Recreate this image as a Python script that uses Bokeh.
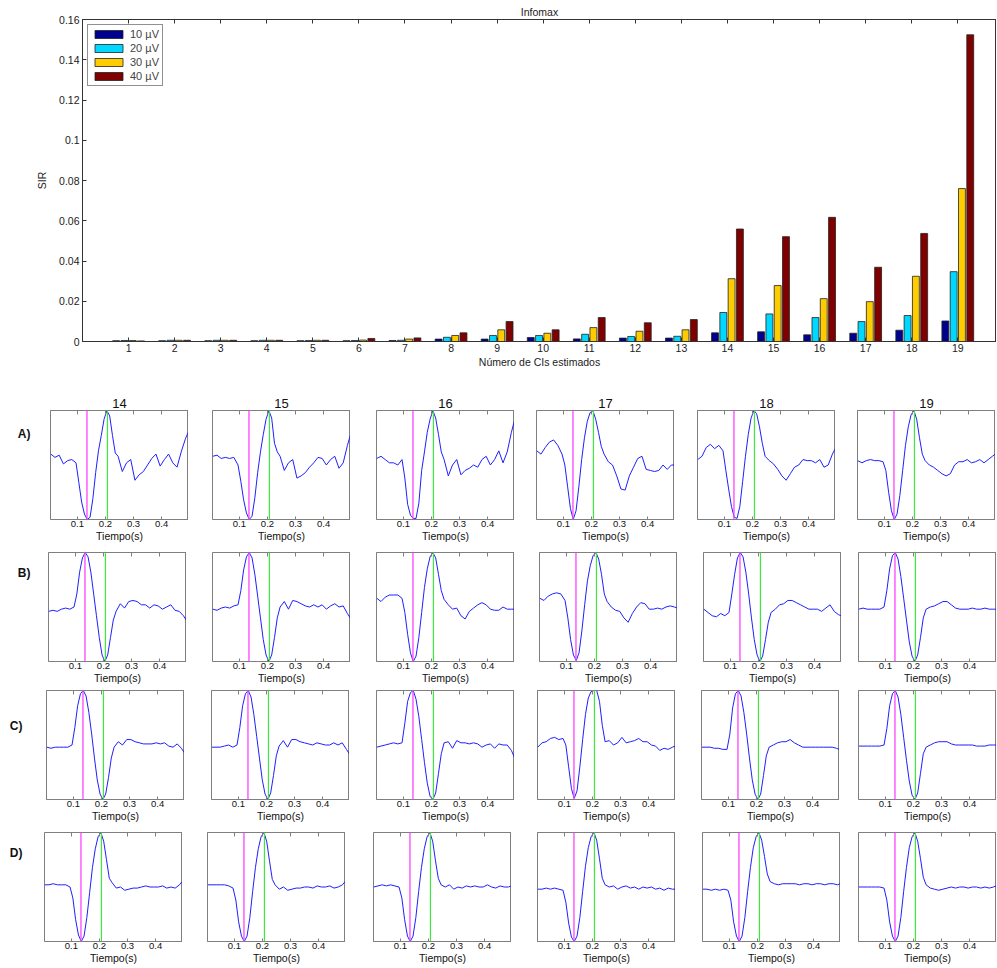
from bokeh.plotting import figure
from bokeh.models import Range1d, FixedTicker, LinearAxis, Legend, LegendItem, Span
from bokeh.core.properties import value
from bokeh.layouts import column, row
from bokeh.embed import file_html
from bokeh.resources import INLINE

FONT = "Liberation Sans"

# ---------------- bar chart data ----------------
CATS = list(range(1, 20))
SERIES = ["10 µV", "20 µV", "30 µV", "40 µV"]
V10 = [0.0004, 0.0004, 0.0004, 0.0004, 0.0004, 0.0004, 0.0005, 0.0012, 0.0012, 0.0020,
       0.0013, 0.0017, 0.0017, 0.0043, 0.0048, 0.0033, 0.0041, 0.0056, 0.0102]
V20 = [0.0005, 0.0006, 0.0006, 0.0006, 0.0005, 0.0005, 0.0006, 0.0021, 0.0030, 0.0030,
       0.0036, 0.0025, 0.0026, 0.0144, 0.0137, 0.0119, 0.0099, 0.0129, 0.0347]
V30 = [0.0005, 0.0006, 0.0006, 0.0006, 0.0006, 0.0007, 0.0012, 0.0030, 0.0058, 0.0041,
       0.0069, 0.0051, 0.0058, 0.0312, 0.0278, 0.0213, 0.0198, 0.0324, 0.0760]
V40 = [0.0003, 0.0006, 0.0006, 0.0006, 0.0006, 0.0015, 0.0018, 0.0043, 0.0099, 0.0058,
       0.0119, 0.0093, 0.0109, 0.0559, 0.0521, 0.0617, 0.0369, 0.0537, 0.1524]
Y_TICKS = [0, 0.02, 0.04, 0.06, 0.08, 0.1, 0.12, 0.14, 0.16]
Y_TICK_LABELS = ["0", "0.02", "0.04", "0.06", "0.08", "0.1", "0.12", "0.14", "0.16"]

# ---------------- waveform data (normalised amplitude) ----------------
T = [0.005, 0.02, 0.035, 0.05, 0.065, 0.08, 0.095, 0.105, 0.115, 0.125, 0.135, 0.145, 0.155,
     0.165, 0.175, 0.185, 0.195, 0.205, 0.215, 0.225, 0.235, 0.245, 0.26, 0.275, 0.29, 0.305,
     0.32, 0.335, 0.35, 0.365, 0.38, 0.395, 0.41, 0.425, 0.44, 0.455, 0.47, 0.485, 0.495]
COL_TITLES = ["14", "15", "16", "17", "18", "19"]
ROW_NAMES = ["A)", "B)", "C)", "D)"]
T_TICKS = [0.1, 0.2, 0.3, 0.4]
T_MAGENTA = 0.134
T_GREEN = 0.207

A14 = [0.60,0.57,0.59,0.51,0.54,0.55,0.52,0.34,0.16,0.05,0.00,0.02,0.19,0.43,0.63,0.77,0.92,1.00,0.95,0.77,0.61,0.58,0.44,0.52,0.55,0.36,0.41,0.44,0.50,0.56,0.60,0.49,0.55,0.60,0.52,0.48,0.62,0.74,0.80]
A15 = [0.58,0.59,0.56,0.57,0.56,0.57,0.50,0.35,0.18,0.06,0.00,0.03,0.20,0.43,0.62,0.78,0.92,1.00,0.93,0.70,0.62,0.58,0.45,0.52,0.55,0.38,0.40,0.43,0.48,0.52,0.57,0.56,0.50,0.55,0.58,0.47,0.52,0.68,0.77]
A16 = [0.56,0.58,0.55,0.52,0.52,0.50,0.55,0.38,0.14,0.04,0.01,0.01,0.15,0.45,0.62,0.80,0.92,1.00,0.93,0.78,0.62,0.55,0.40,0.50,0.55,0.41,0.45,0.47,0.50,0.48,0.55,0.58,0.50,0.55,0.63,0.52,0.62,0.80,0.90]
A17 = [0.63,0.60,0.66,0.71,0.73,0.68,0.60,0.50,0.30,0.10,0.00,0.08,0.30,0.55,0.75,0.90,0.98,1.00,0.92,0.80,0.67,0.60,0.53,0.50,0.40,0.28,0.27,0.40,0.48,0.56,0.58,0.46,0.45,0.44,0.45,0.50,0.46,0.50,0.50]
A18 = [0.55,0.58,0.66,0.69,0.65,0.68,0.63,0.45,0.28,0.12,0.02,0.01,0.12,0.35,0.58,0.78,0.93,1.00,0.97,0.85,0.70,0.58,0.54,0.51,0.46,0.40,0.36,0.42,0.48,0.50,0.55,0.54,0.54,0.52,0.55,0.48,0.50,0.60,0.65]
A19 = [0.54,0.52,0.54,0.55,0.54,0.54,0.53,0.45,0.25,0.08,0.00,0.05,0.22,0.45,0.68,0.85,0.96,1.00,0.92,0.75,0.60,0.54,0.50,0.48,0.45,0.42,0.40,0.42,0.50,0.53,0.53,0.55,0.52,0.53,0.55,0.52,0.55,0.58,0.60]

B14 = [0.46,0.47,0.46,0.48,0.49,0.48,0.50,0.62,0.82,0.95,1.00,0.96,0.82,0.62,0.42,0.22,0.06,0.00,0.06,0.22,0.38,0.46,0.53,0.49,0.55,0.56,0.55,0.52,0.52,0.49,0.52,0.51,0.48,0.50,0.52,0.47,0.46,0.42,0.38]
B15 = [0.48,0.47,0.49,0.50,0.49,0.51,0.52,0.65,0.84,0.96,1.00,0.95,0.80,0.60,0.40,0.20,0.06,0.00,0.06,0.22,0.40,0.50,0.55,0.48,0.56,0.55,0.53,0.51,0.50,0.52,0.50,0.52,0.48,0.51,0.53,0.50,0.51,0.44,0.40]
B16 = [0.58,0.55,0.59,0.61,0.61,0.61,0.58,0.45,0.25,0.08,0.00,0.05,0.22,0.45,0.68,0.85,0.96,1.00,0.95,0.80,0.65,0.57,0.52,0.48,0.49,0.42,0.39,0.46,0.49,0.52,0.54,0.52,0.48,0.47,0.47,0.50,0.48,0.48,0.48]
B17 = [0.58,0.56,0.60,0.62,0.63,0.62,0.56,0.40,0.20,0.06,0.01,0.08,0.28,0.52,0.74,0.88,0.97,1.00,0.94,0.80,0.62,0.55,0.50,0.47,0.46,0.40,0.36,0.44,0.50,0.54,0.53,0.48,0.48,0.49,0.48,0.50,0.51,0.50,0.49]
B18 = [0.48,0.45,0.42,0.41,0.44,0.42,0.45,0.62,0.80,0.95,1.00,0.96,0.82,0.62,0.40,0.20,0.06,0.00,0.05,0.20,0.36,0.45,0.48,0.52,0.53,0.56,0.56,0.54,0.52,0.50,0.48,0.48,0.48,0.46,0.49,0.52,0.46,0.43,0.42]
B19 = [0.48,0.49,0.48,0.48,0.48,0.48,0.50,0.65,0.85,0.97,1.00,0.94,0.78,0.58,0.38,0.18,0.05,0.00,0.06,0.22,0.40,0.48,0.50,0.51,0.53,0.55,0.55,0.52,0.49,0.48,0.48,0.48,0.49,0.48,0.48,0.49,0.48,0.48,0.48]

C14 = [0.48,0.47,0.48,0.48,0.48,0.48,0.50,0.66,0.86,0.97,1.00,0.95,0.80,0.60,0.38,0.18,0.05,0.00,0.05,0.20,0.38,0.48,0.53,0.50,0.55,0.55,0.53,0.52,0.51,0.51,0.51,0.52,0.51,0.52,0.49,0.48,0.51,0.47,0.43]
C15 = [0.48,0.48,0.48,0.49,0.50,0.48,0.50,0.66,0.86,0.97,1.00,0.94,0.78,0.58,0.38,0.18,0.05,0.00,0.06,0.22,0.40,0.49,0.54,0.48,0.55,0.55,0.53,0.52,0.51,0.50,0.52,0.51,0.50,0.50,0.52,0.50,0.52,0.46,0.42]
C16 = [0.48,0.49,0.50,0.51,0.52,0.51,0.52,0.70,0.90,0.98,1.00,0.92,0.76,0.55,0.34,0.15,0.03,0.00,0.06,0.24,0.42,0.52,0.53,0.47,0.54,0.52,0.52,0.51,0.52,0.51,0.48,0.50,0.51,0.47,0.51,0.50,0.50,0.45,0.39]
C17 = [0.48,0.52,0.53,0.56,0.57,0.55,0.56,0.50,0.30,0.10,0.01,0.08,0.30,0.55,0.78,0.93,0.99,1.00,1.00,0.90,0.68,0.53,0.54,0.50,0.52,0.57,0.52,0.53,0.54,0.56,0.53,0.53,0.50,0.49,0.45,0.47,0.46,0.48,0.49]
C18 = [0.48,0.48,0.48,0.47,0.47,0.46,0.46,0.60,0.84,0.97,1.00,0.95,0.80,0.60,0.38,0.18,0.05,0.00,0.05,0.22,0.40,0.48,0.50,0.52,0.53,0.53,0.55,0.52,0.50,0.48,0.48,0.48,0.48,0.48,0.48,0.48,0.48,0.47,0.46]
C19 = [0.49,0.49,0.49,0.49,0.49,0.49,0.50,0.65,0.86,0.97,1.00,0.94,0.78,0.57,0.36,0.17,0.04,0.00,0.06,0.24,0.42,0.48,0.50,0.52,0.53,0.53,0.53,0.51,0.50,0.50,0.50,0.50,0.50,0.49,0.49,0.49,0.50,0.50,0.50]

D14 = [0.52,0.52,0.53,0.52,0.52,0.52,0.50,0.40,0.20,0.06,0.00,0.05,0.22,0.45,0.68,0.85,0.96,1.00,0.92,0.75,0.58,0.54,0.49,0.50,0.47,0.48,0.49,0.49,0.50,0.51,0.50,0.50,0.50,0.51,0.49,0.50,0.49,0.52,0.55]
D15 = [0.52,0.52,0.52,0.52,0.52,0.51,0.49,0.38,0.18,0.05,0.00,0.05,0.22,0.46,0.68,0.85,0.96,1.00,0.92,0.74,0.57,0.52,0.48,0.50,0.47,0.48,0.49,0.49,0.50,0.50,0.49,0.51,0.50,0.50,0.51,0.49,0.50,0.52,0.55]
D16 = [0.50,0.51,0.52,0.51,0.52,0.51,0.50,0.40,0.20,0.05,0.00,0.05,0.22,0.46,0.68,0.85,0.96,1.00,0.92,0.74,0.58,0.52,0.50,0.52,0.48,0.50,0.49,0.51,0.50,0.51,0.50,0.50,0.52,0.50,0.49,0.51,0.50,0.50,0.51]
D17 = [0.48,0.48,0.49,0.48,0.49,0.48,0.47,0.36,0.17,0.04,0.00,0.05,0.22,0.46,0.69,0.86,0.96,1.00,0.93,0.76,0.58,0.52,0.50,0.51,0.48,0.50,0.51,0.49,0.50,0.48,0.50,0.49,0.50,0.48,0.49,0.47,0.49,0.48,0.48]
D18 = [0.48,0.48,0.47,0.48,0.47,0.48,0.47,0.38,0.18,0.05,0.00,0.05,0.22,0.46,0.68,0.86,0.96,1.00,0.93,0.78,0.62,0.55,0.53,0.52,0.53,0.53,0.53,0.53,0.52,0.53,0.53,0.52,0.53,0.53,0.52,0.53,0.53,0.52,0.53]
D19 = [0.50,0.50,0.50,0.50,0.50,0.50,0.49,0.38,0.18,0.05,0.00,0.05,0.22,0.46,0.68,0.86,0.96,1.00,0.92,0.76,0.59,0.52,0.49,0.48,0.47,0.48,0.49,0.50,0.49,0.50,0.50,0.49,0.50,0.50,0.49,0.50,0.49,0.50,0.51]

WAVES = [[A14, A15, A16, A17, A18, A19],
         [B14, B15, B16, B17, B18, B19],
         [C14, C15, C16, C17, C18, C19],
         [D14, D15, D16, D17, D18, D19]]

# ---------------- styles / layout ----------------
BAR_COLORS = ["#00008f", "#00d8ff", "#ffcc00", "#800000"]
BAR_OFFSETS = [-0.27, -0.09, 0.09, 0.27]
BAR_WIDTH = 0.15
WAVE_COLOR = "#1f1fff"
MAGENTA = "#ff44ff"
GREEN = "#3de83d"
FRAME = "#7f7f7f"

FW = 138
FH = 109
ROW_LEFTS = [[50, 212, 376, 536, 697, 857],
             [48, 212, 376, 539, 703, 858],
             [46, 211, 376, 537, 701, 858],
             [44, 207, 373, 537, 702, 858]]
ROW_TOP = [40, 7, 4, 7]
ROW_BOTTOM = [26, 25, 26, 25]
ROW_LABEL_DX = [-20, -18, -24, -22]
ROW_LABEL_Y = [0.78, 0.81, 0.67, 0.81]
XMIN, XMAX = 0.004, 0.496


def hidden_label_axis(ticks, color):
    # tick marks only (MATLAB box ticks), labels not drawn
    return LinearAxis(ticker=FixedTicker(ticks=ticks), major_label_text_font_size="1px",
                      major_label_text_color=None, major_label_standoff=0,
                      major_tick_in=4, major_tick_out=0, minor_tick_line_color=None,
                      axis_line_color=color, major_tick_line_color=color)


# ---------------- bar chart ----------------
bar = figure(frame_width=914, frame_height=322, x_range=Range1d(0, 19.84), y_range=Range1d(0, 0.16),
             min_border_left=82, min_border_right=0, min_border_top=19, min_border_bottom=28,
             output_backend="svg", toolbar_location=None, title="Infomax")
bar.title.align = "center"
bar.title.text_font = FONT
bar.title.text_font_size = "10.5px"
bar.title.text_font_style = "normal"
bar.title.text_color = "#222222"
bar.title.standoff = 4
bar.grid.visible = False
bar.outline_line_color = "#333333"
items = []
for name, vals, off, col in zip(SERIES, [V10, V20, V30, V40], BAR_OFFSETS, BAR_COLORS):
    r = bar.vbar(x=[c + off for c in CATS], top=vals, width=BAR_WIDTH, fill_color=col,
                 line_color="#222222", line_width=0.8)
    items.append(LegendItem(label=name, renderers=[r]))

ax = bar.xaxis[0]
ax.ticker = FixedTicker(ticks=CATS)
ax.axis_label = "Número de CIs estimados"
ay = bar.yaxis[0]
ay.ticker = FixedTicker(ticks=Y_TICKS)
ay.major_label_overrides = {t: s for t, s in zip(Y_TICKS, Y_TICK_LABELS)}
ay.axis_label = "SIR"
for a in (ax, ay):
    a.major_tick_in = 4
    a.major_tick_out = 0
    a.minor_tick_line_color = None
    a.axis_line_color = "#333333"
    a.major_tick_line_color = "#333333"
    a.major_label_text_font = FONT
    a.major_label_text_font_size = "10.5px"
    a.major_label_text_color = "#222222"
    a.axis_label_text_font = FONT
    a.axis_label_text_font_size = "10.5px"
    a.axis_label_text_font_style = "normal"
    a.axis_label_text_color = "#222222"
ax.major_label_standoff = 2
ax.axis_label_standoff = 1
ay.major_label_standoff = 3
ay.axis_label_standoff = 8
bar.add_layout(hidden_label_axis(CATS, "#333333"), "above")

legend = Legend(items=items, location="top_left", margin=5, padding=3, spacing=2,
                glyph_width=35, glyph_height=10, label_height=9, label_standoff=4,
                label_text_font=FONT, label_text_font_size="11px",
                border_line_color="#222222", border_line_width=1, background_fill_alpha=1)
bar.add_layout(legend)

# ---------------- waveform panels ----------------
rows = []
for ri in range(4):
    lefts = ROW_LEFTS[ri]
    # narrow figure carrying the row letter
    lab = figure(frame_width=lefts[0], frame_height=FH, x_range=Range1d(0, 1), y_range=Range1d(0, 1),
                 x_axis_location=None, y_axis_location=None, min_border_left=0, min_border_right=0,
                 min_border_top=ROW_TOP[ri], min_border_bottom=ROW_BOTTOM[ri],
                 output_backend="svg", toolbar_location=None)
    lab.grid.visible = False
    lab.outline_line_color = None
    lab.text(x=[1.0], y=[ROW_LABEL_Y[ri]], text=[ROW_NAMES[ri]], x_offset=ROW_LABEL_DX[ri],
             text_align="right", text_baseline="middle", text_font=value(FONT),
             text_font_size="12px", text_font_style="bold", text_color="#111111")
    figs = [lab]
    for ci in range(6):
        border_left = 0 if ci == 0 else lefts[ci] - (lefts[ci - 1] + FW)
        p = figure(frame_width=FW, frame_height=FH, x_range=Range1d(XMIN, XMAX), y_range=Range1d(0, 1),
                   y_axis_location=None, min_border_left=border_left, min_border_right=0,
                   min_border_top=ROW_TOP[ri], min_border_bottom=ROW_BOTTOM[ri],
                   output_backend="svg", toolbar_location=None)
        if ri == 0:
            p.title.text = COL_TITLES[ci]
            p.title.align = "center"
            p.title.text_font = FONT
            p.title.text_font_size = "13px"
            p.title.text_font_style = "normal"
            p.title.text_color = "#111111"
            p.title.standoff = 6
        p.grid.visible = False
        p.outline_line_color = FRAME
        p.line(T, WAVES[ri][ci], line_color=WAVE_COLOR, line_width=1)
        p.add_layout(Span(location=T_MAGENTA, dimension="height", line_color=MAGENTA, line_width=1.3))
        p.add_layout(Span(location=T_GREEN, dimension="height", line_color=GREEN, line_width=1.2))
        xa = p.xaxis[0]
        xa.ticker = FixedTicker(ticks=T_TICKS)
        xa.axis_label = "Tiempo(s)"
        xa.major_tick_in = 3
        xa.major_tick_out = 0
        xa.minor_tick_line_color = None
        xa.axis_line_color = FRAME
        xa.major_tick_line_color = FRAME
        xa.major_label_standoff = 1
        xa.axis_label_standoff = 0
        xa.major_label_text_font = FONT
        xa.major_label_text_font_size = "9.5px"
        xa.major_label_text_color = "#111111"
        xa.axis_label_text_font = FONT
        xa.axis_label_text_font_size = "10.5px"
        xa.axis_label_text_font_style = "normal"
        xa.axis_label_text_color = "#111111"
        p.add_layout(hidden_label_axis(T_TICKS, FRAME), "above")
        figs.append(p)
    rows.append(row(*figs))

layout = column(bar, *rows)
open("out.html", "w").write(file_html(layout, INLINE))
